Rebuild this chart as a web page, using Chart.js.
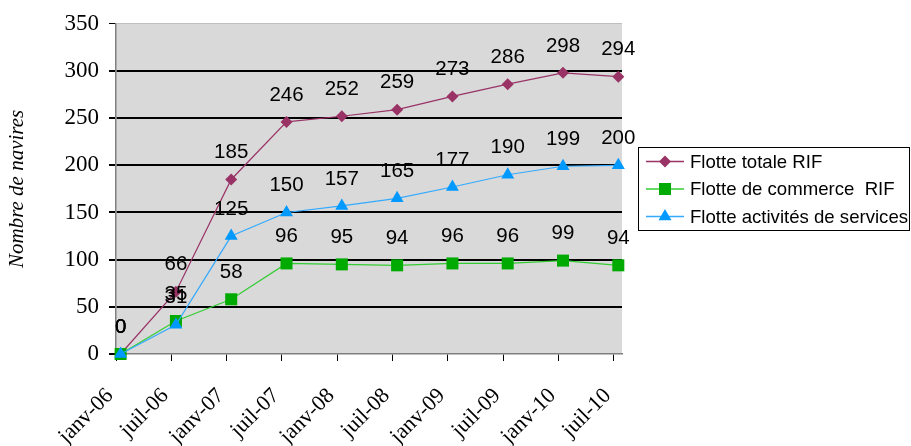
<!DOCTYPE html>
<html>
<head>
<meta charset="utf-8">
<script src="https://cdn.jsdelivr.net/npm/chart.js@4/dist/chart.umd.min.js"></script>
<style>
  html, body { margin: 0; padding: 0; background: #ffffff; }
  #wrap { width: 911px; height: 446px; }
</style>
</head>
<body>
<div id="wrap"><canvas id="c" width="911" height="446"></canvas></div>
<script>
// Axis categories (one graduation every six months)
const periodes = ['janv-06', 'juil-06', 'janv-07', 'juil-07', 'janv-08', 'juil-08', 'janv-09', 'juil-09', 'janv-10', 'juil-10'];
const moisGraduation = [0, 6, 12, 18, 24, 30, 36, 42, 48, 54];
// Month of each reading, counted from janv-06 (readings taken mid-month)
const moisReleve = [0.5, 6.5, 12.5, 18.5, 24.5, 30.5, 36.5, 42.5, 48.5, 54.5];

// Number of ships per fleet
const flotteTotale   = [0, 66, 185, 246, 252, 259, 273, 286, 298, 294];
const flotteCommerce = [0, 35, 58, 96, 95, 94, 96, 96, 99, 94];
const flotteServices = [0, 31, 125, 150, 157, 165, 177, 190, 199, 200];

const yGraduations = [0, 50, 100, 150, 200, 250, 300, 350];

const serie = (vals) => vals.map((v, i) => ({ x: moisReleve[i], y: v }));

const series = [
  { label: 'Flotte totale RIF', data: serie(flotteTotale), line: '#993366', fill: '#993366', style: 'rectRot', radius: 6, order: 2 },
  { label: 'Flotte de commerce  RIF', data: serie(flotteCommerce), line: '#33CC33', fill: '#00AA00', style: 'rect', radius: 8.5, order: 1 },
  { label: 'Flotte activités de services', data: serie(flotteServices), line: '#33AAFF', fill: '#0099FF', style: 'triangle', radius: 7.5, order: 0 }
];

// Grey plot background
const plotBackground = {
  id: 'plotBackground',
  beforeDraw(chart) {
    const { ctx, chartArea: a } = chart;
    ctx.save();
    ctx.fillStyle = '#D9D9D9';
    ctx.fillRect(a.left, a.top, a.right - a.left, a.bottom - a.top);
    ctx.restore();
  }
};

// Value written above every marker
const valueLabels = {
  id: 'valueLabels',
  afterDatasetsDraw(chart) {
    const { ctx } = chart;
    ctx.save();
    ctx.font = '20.5px "Liberation Sans", Arial, sans-serif';
    ctx.fillStyle = '#000000';
    ctx.textAlign = 'center';
    ctx.textBaseline = 'middle';
    chart.data.datasets.forEach((ds, di) => {
      const meta = chart.getDatasetMeta(di);
      meta.data.forEach((pt, i) => {
        ctx.fillText(String(ds.data[i].y), pt.x, pt.y - 27);
      });
    });
    ctx.restore();
  }
};

function drawMarker(ctx, style, x, y, r) {
  ctx.beginPath();
  if (style === 'rectRot') {
    ctx.moveTo(x, y - r); ctx.lineTo(x + r, y); ctx.lineTo(x, y + r); ctx.lineTo(x - r, y);
  } else if (style === 'rect') {
    const s = r * Math.SQRT1_2;
    ctx.rect(x - s, y - s, 2 * s, 2 * s);
  } else {
    const h = r * 0.866;
    ctx.moveTo(x, y - r); ctx.lineTo(x + h, y + r / 2); ctx.lineTo(x - h, y + r / 2);
  }
  ctx.closePath();
  ctx.fill();
}

// Boxed legend at the right of the plot
const boxedLegend = {
  id: 'boxedLegend',
  afterDraw(chart) {
    const { ctx } = chart;
    const bx = 638.5, by = 147.5, bw = 271, bh = 83;
    ctx.save();
    ctx.fillStyle = '#ffffff';
    ctx.fillRect(bx, by, bw, bh);
    ctx.strokeStyle = '#000000';
    ctx.lineWidth = 1;
    ctx.strokeRect(bx, by, bw, bh);
    ctx.font = '18.6px "Liberation Sans", Arial, sans-serif';
    ctx.textAlign = 'left';
    ctx.textBaseline = 'middle';
    series.forEach((s, i) => {
      const y = by + 14 + i * 27.5;
      ctx.strokeStyle = s.line;
      ctx.lineWidth = 1.5;
      ctx.beginPath();
      ctx.moveTo(646, y); ctx.lineTo(684, y);
      ctx.stroke();
      ctx.fillStyle = s.fill;
      drawMarker(ctx, s.style, 665, y, s.radius);
      ctx.fillStyle = '#000000';
      ctx.fillText(s.label, 690, y + 1);
    });
    ctx.restore();
  }
};

new Chart(document.getElementById('c'), {
  type: 'line',
  data: {
    datasets: series.map(s => ({
      label: s.label,
      data: s.data,
      borderColor: s.line,
      borderWidth: 1.2,
      backgroundColor: s.fill,
      pointBackgroundColor: s.fill,
      pointBorderColor: s.fill,
      pointBorderWidth: 0,
      pointStyle: s.style,
      pointRadius: s.radius,
      pointHoverRadius: s.radius,
      tension: 0,
      fill: false,
      clip: false,
      order: s.order
    }))
  },
  options: {
    responsive: false,
    animation: false,
    devicePixelRatio: 1,
    layout: { padding: { top: 23, right: 289, left: 0, bottom: 0 } },
    plugins: {
      legend: { display: false },
      tooltip: { enabled: false }
    },
    scales: {
      x: {
        type: 'linear',
        min: 0,
        max: 54.9,
        afterBuildTicks(scale) {
          scale.ticks = moisGraduation.map(v => ({ value: v }));
        },
        afterFit(scale) { scale.height = 92; },
        ticks: {
          autoSkip: false,
          maxRotation: 45,
          minRotation: 45,
          padding: 22,
          labelOffset: -6,
          color: '#000000',
          font: { family: '"Liberation Serif", "Times New Roman", serif', size: 22 },
          callback: (v) => periodes[moisGraduation.indexOf(v)]
        },
        grid: { drawOnChartArea: false, tickLength: 7, color: '#000000', lineWidth: 1 },
        border: { color: '#808080', width: 1.5 }
      },
      y: {
        min: 0,
        max: 350,
        afterBuildTicks(scale) {
          scale.ticks = yGraduations.map(v => ({ value: v }));
        },
        afterFit(scale) { scale.width = 116; },
        ticks: {
          padding: 10,
          color: '#000000',
          font: { family: '"Liberation Serif", "Times New Roman", serif', size: 23 }
        },
        grid: {
          tickLength: 7,
          color: (c) => c.tick && c.tick.value === 350 ? '#BFBFBF' : (c.tick && c.tick.value === 0 ? 'rgba(0,0,0,0)' : '#000000'),
          tickColor: '#000000',
          lineWidth: (c) => c.tick && c.tick.value === 350 ? 1 : 2
        },
        border: { color: '#808080', width: 1.5 },
        title: {
          display: true,
          text: 'Nombre de navires',
          color: '#000000',
          padding: { top: 5, bottom: 0 },
          font: { family: '"Liberation Serif", "Times New Roman", serif', size: 21, style: 'italic' }
        }
      }
    }
  },
  plugins: [plotBackground, valueLabels, boxedLegend]
});
</script>
</body>
</html>
